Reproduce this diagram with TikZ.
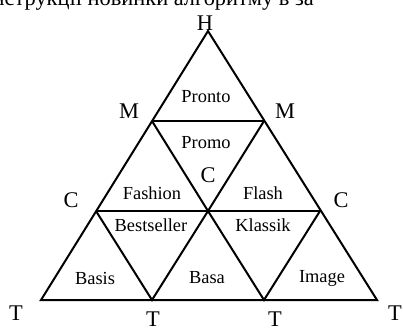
\documentclass[tikz,border=0pt]{standalone}
\usepackage{fontspec}
\setmainfont{Liberation Serif}
\begin{document}
\begin{tikzpicture}[x=0.5pt,y=-0.5pt,
    edge/.style={line width=1pt, line join=miter},
    corner/.style={font=\fontsize{11.2}{13}\selectfont, inner sep=0pt},
    segment/.style={font=\fontsize{9.2}{11}\selectfont, inner sep=0pt}]
    \useasboundingbox (0,0) rectangle (403,329);

    % Clipped line of text at the top
    \begin{scope}
        \clip (0,0) rectangle (403,329);
        \node[corner, anchor=base west] (caption) at (-14,5) {інструкції новинки алгоритму в за};
    \end{scope}

    % Vertices of the grid
    \coordinate (H)  at (208,31);
    \coordinate (ML) at (152,121);
    \coordinate (MR) at (264,121);
    \coordinate (CL) at (96,211);
    \coordinate (CC) at (208,211);
    \coordinate (CR) at (320,211);
    \coordinate (TL) at (41,300);
    \coordinate (T1) at (152,300);
    \coordinate (T2) at (264,300);
    \coordinate (TR) at (377,300);

    % Outer triangle
    \draw[edge] (TL) -- (H) -- (TR) -- cycle;

    % Horizontal lines
    \draw[edge] (ML) -- (MR);
    \draw[edge] (CL) -- (CR);

    % Inner lines
    \draw[edge] (ML) -- (CC) -- (MR);
    \draw[edge] (CL) -- (T1) -- (CC) -- (T2) -- (CR);

    % Vertex labels
    \node[corner] (lblH)  at (205,23)  {H};
    \node[corner] (lblML) at (129,111) {M};
    \node[corner] (lblMR) at (285,111) {M};
    \node[corner] (lblCL) at (71,200)  {C};
    \node[corner] (lblCC) at (208,175) {C};
    \node[corner] (lblCR) at (341,200) {C};
    \node[corner] (lblTL) at (16,313)  {T};
    \node[corner] (lblT1) at (153,319) {T};
    \node[corner] (lblT2) at (275,319) {T};
    \node[corner] (lblTR) at (395,313) {T};

    % Segment labels
    \node[segment] (pronto)     at (206,97)  {Pronto};
    \node[segment] (promo)      at (206,143) {Promo};
    \node[segment] (fashion)    at (152,193) {Fashion};
    \node[segment] (flash)      at (263,193) {Flash};
    \node[segment] (bestseller) at (151,225) {Bestseller};
    \node[segment] (klassik)    at (263,225) {Klassik};
    \node[segment] (basis)      at (95,278)  {Basis};
    \node[segment] (basa)       at (207,278) {Basa};
    \node[segment] (image)      at (322,278) {Image};
\end{tikzpicture}
\end{document}
